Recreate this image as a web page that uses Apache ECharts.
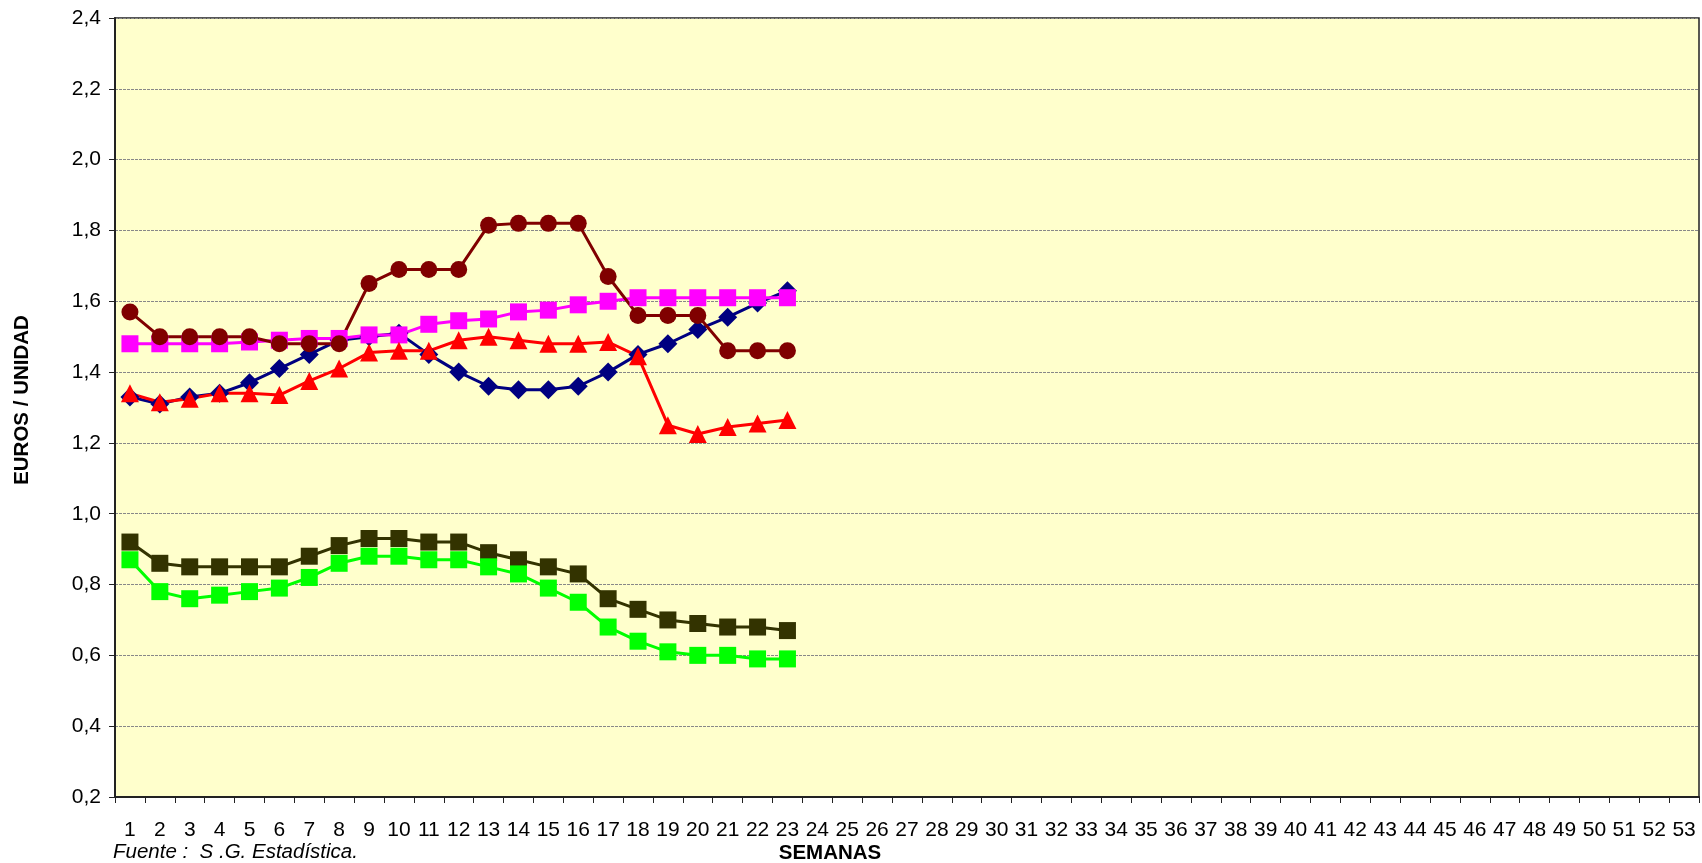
<!DOCTYPE html>
<html>
<head>
<meta charset="utf-8">
<script src="https://cdn.jsdelivr.net/npm/echarts@6/dist/echarts.min.js"></script>
<style>
html,body{margin:0;padding:0;background:#fff;}
#c{width:1702px;height:863px;}
</style>
</head>
<body>
<div id="c"></div>
<script>
var weeks = [];
for (var i = 1; i <= 53; i++) weeks.push(String(i));

var serieNavy    = [1.33,1.31,1.33,1.34,1.37,1.41,1.45,1.49,1.50,1.51,1.45,1.40,1.36,1.35,1.35,1.36,1.40,1.45,1.48,1.52,1.555,1.595,1.63];
var serieMagenta = [1.48,1.48,1.48,1.48,1.485,1.49,1.495,1.495,1.505,1.505,1.535,1.545,1.55,1.57,1.575,1.59,1.60,1.61,1.61,1.61,1.61,1.61,1.61];
var serieRed     = [1.34,1.315,1.325,1.34,1.34,1.335,1.375,1.41,1.455,1.46,1.46,1.49,1.50,1.49,1.48,1.48,1.485,1.445,1.25,1.225,1.245,1.255,1.265];
var serieDarkRed = [1.57,1.50,1.50,1.50,1.50,1.48,1.48,1.48,1.65,1.69,1.69,1.69,1.815,1.82,1.82,1.82,1.67,1.56,1.56,1.56,1.46,1.46,1.46];
var serieOlive   = [0.92,0.86,0.85,0.85,0.85,0.85,0.88,0.91,0.93,0.93,0.92,0.92,0.89,0.87,0.85,0.83,0.76,0.73,0.70,0.69,0.68,0.68,0.67];
var serieGreen   = [0.87,0.78,0.76,0.77,0.78,0.79,0.82,0.86,0.88,0.88,0.87,0.87,0.85,0.83,0.79,0.75,0.68,0.64,0.61,0.60,0.60,0.59,0.59];

var yMin = 0.2, yMax = 2.4, yStep = 0.2;
var FONT = 'Liberation Sans, Arial, sans-serif';

function mk(name, data, color, symbol, size) {
  return {
    name: name, type: 'line', data: data,
    symbol: symbol, symbolSize: size,
    lineStyle: {color: color, width: 3},
    itemStyle: {color: color, borderWidth: 0},
    emphasis: {disabled: true},
    animation: false
  };
}

var chart = echarts.init(document.getElementById('c'));
chart.setOption({
  animation: false,
  textStyle: {fontFamily: FONT},
  grid: {left: 115, right: 3, top: 18, bottom: 66, show: true,
         backgroundColor: '#FFFFCC', borderColor: '#222', borderWidth: 1.5},
  xAxis: {
    type: 'category', data: weeks, boundaryGap: true,
    axisLine: {lineStyle: {color: '#222', width: 2}},
    axisTick: {show: true, length: 6, lineStyle: {color: '#222', width: 1}, alignWithLabel: false},
    axisLabel: {color: '#000', fontSize: 21, margin: 23, interval: 0},
    splitLine: {show: false}
  },
  yAxis: {
    type: 'value', min: yMin, max: yMax, interval: yStep,
    axisLine: {show: true, lineStyle: {color: '#222', width: 2}},
    axisTick: {show: true, length: 6, lineStyle: {color: '#222'}},
    axisLabel: {color: '#000', fontSize: 21, margin: 14,
      formatter: function (v) { return v.toFixed(1).replace('.', ','); }},
    splitLine: {show: true, lineStyle: {color: '#888', type: [3, 1], width: 1}}
  },
  graphic: [
    {type: 'text', x: 113, y: 852,
     style: {text: 'Fuente :  S .G. Estadística.', fontSize: 20.5, fontStyle: 'italic',
             verticalAlign: 'middle', fontFamily: FONT, fill: '#000'}},
    {type: 'text', x: 830, y: 853,
     style: {text: 'SEMANAS', fontSize: 20.5, fontWeight: 'bold', align: 'center', verticalAlign: 'middle',
             fontFamily: FONT, fill: '#000'}},
    {type: 'text', x: 22, y: 400, rotation: Math.PI / 2,
     style: {text: 'EUROS / UNIDAD', fontSize: 20.5, fontWeight: 'bold', align: 'center', verticalAlign: 'middle',
             fontFamily: FONT, fill: '#000'}}
  ],
  series: [
    mk('navy', serieNavy, '#000080', 'diamond', 19),
    mk('magenta', serieMagenta, '#FF00FF', 'rect', 17),
    mk('red', serieRed, '#FF0000', 'triangle', 18),
    mk('darkred', serieDarkRed, '#800000', 'circle', 17),
    mk('olive', serieOlive, '#333300', 'rect', 17),
    mk('green', serieGreen, '#00FF00', 'rect', 17)
  ]
});
</script>
</body>
</html>
